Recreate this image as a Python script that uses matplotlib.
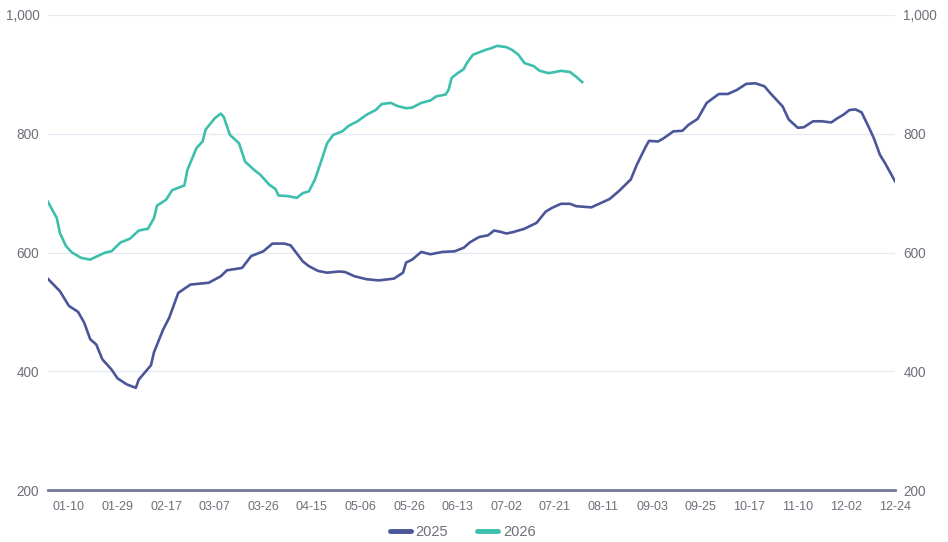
import matplotlib.pyplot as plt
from matplotlib.ticker import FuncFormatter

plt.rcParams['font.family'] = ['Liberation Sans', 'DejaVu Sans']

# category axis: 280 dates, a label every 16 categories starting at 7
n_cats = 280
tick_labels = ["01-10", "01-29", "02-17", "03-07", "03-26", "04-15", "05-06",
               "05-26", "06-13", "07-02", "07-21", "08-11", "09-03", "09-25",
               "10-17", "11-10", "12-02", "12-24"]
tick_idx = [7 + 16 * i for i in range(len(tick_labels))]

# 2025 series (category index, value)
idx_2025 = [0, 4, 7, 10, 12, 14, 16, 18, 21, 23, 26, 29, 30, 34, 35, 38, 40, 43,
            47, 53, 57, 59, 64, 67, 71, 74, 78, 80, 84, 86, 89, 92, 96, 98, 101,
            105, 109, 114, 117, 118, 120, 123, 126, 130, 134, 137, 139, 142, 145,
            147, 149, 151, 153, 157, 161, 164, 166, 169, 172, 174, 179, 185, 188,
            192, 194, 197, 198, 201, 203, 206, 209, 211, 214, 217, 221, 224, 227,
            230, 233, 236, 238, 242, 244, 247, 249, 252, 255, 258, 260, 262, 264,
            266, 268, 270, 272, 274, 276, 279]
val_2025 = [556, 535, 510, 500, 482, 454, 445, 420, 403, 388, 378, 372, 386, 410,
            432, 470, 490, 532, 546, 549, 560, 570, 574, 594, 602, 615, 615, 612,
            585, 577, 569, 566, 568, 567, 560, 555, 553, 556, 566, 583, 588, 601,
            597, 601, 602, 608, 617, 626, 629, 637, 635, 632, 634, 640, 650, 669,
            675, 682, 682, 678, 676, 690, 703, 723, 748, 779, 788, 787, 793, 804,
            805, 815, 825, 852, 867, 867, 874, 884, 885, 880, 868, 846, 824, 810,
            811, 821, 821, 819, 826, 832, 840, 841, 836, 815, 793, 765, 748, 720]

# 2026 series (category index, value)
idx_2026 = [0, 3, 4, 6, 8, 11, 14, 16, 19, 21, 24, 27, 30, 33, 35, 36, 39, 41, 45,
            46, 49, 51, 52, 55, 57, 58, 60, 63, 65, 68, 70, 73, 75, 76, 79, 82,
            84, 86, 88, 90, 92, 94, 97, 99, 102, 105, 108, 110, 113, 115, 118,
            120, 123, 126, 128, 131, 132, 133, 135, 137, 138, 140, 142, 144, 146,
            148, 151, 153, 155, 157, 160, 162, 165, 169, 172, 174, 176]
val_2026 = [686, 658, 633, 611, 600, 591, 588, 593, 600, 602, 617, 623, 637, 640,
            658, 679, 689, 705, 713, 739, 776, 787, 807, 826, 834, 828, 798, 784,
            753, 739, 731, 714, 707, 696, 695, 692, 700, 703, 723, 753, 784, 798,
            804, 813, 821, 832, 840, 850, 852, 847, 843, 844, 852, 856, 863, 866,
            874, 894, 902, 909, 919, 933, 937, 941, 944, 948, 946, 941, 933, 919,
            914, 906, 902, 906, 904, 896, 887]

c_2025 = "#4b5699"
c_2026 = "#3dbfad"
txt = "#6e7079"

fig = plt.figure(figsize=(9.48, 5.42), dpi=100)
ax = fig.add_axes([47.7 / 948, 52 / 542, (895 - 47.7) / 948, 475 / 542])

ax.plot(idx_2025, val_2025, color=c_2025, lw=1.9, label="2025", zorder=3)
ax.plot(idx_2026, val_2026, color=c_2026, lw=1.9, label="2026", zorder=3)

ax.set_xlim(0, n_cats - 1)
ax.set_ylim(200, 1000)
ax.set_yticks([200, 400, 600, 800, 1000])
ax.yaxis.set_major_formatter(FuncFormatter(lambda v, p: f"{int(v):,}"))
ax.set_xticks(tick_idx)
ax.set_xticklabels(tick_labels)

ax.grid(axis="y", color="#e6e8f2", lw=0.9)
ax.set_axisbelow(True)
for s in ["top", "right", "left"]:
    ax.spines[s].set_visible(False)
ax.spines["bottom"].set_color("#737794")
ax.spines["bottom"].set_linewidth(2.0)

ax.tick_params(axis="x", length=0, pad=8, labelsize=9, labelcolor=txt)
ax.tick_params(axis="y", length=0, pad=6, labelsize=9.8, labelcolor=txt,
               labelright=True)

leg = ax.legend(loc="upper center", bbox_to_anchor=(0.49, -0.047), ncol=2,
                frameon=False, fontsize=10.5, labelcolor=txt, handlelength=1.4,
                handletextpad=0.35, columnspacing=2.0)
for h in leg.get_lines():
    h.set_linewidth(3.5)
    h.set_solid_capstyle("round")

fig.savefig("out.png", dpi=100)
